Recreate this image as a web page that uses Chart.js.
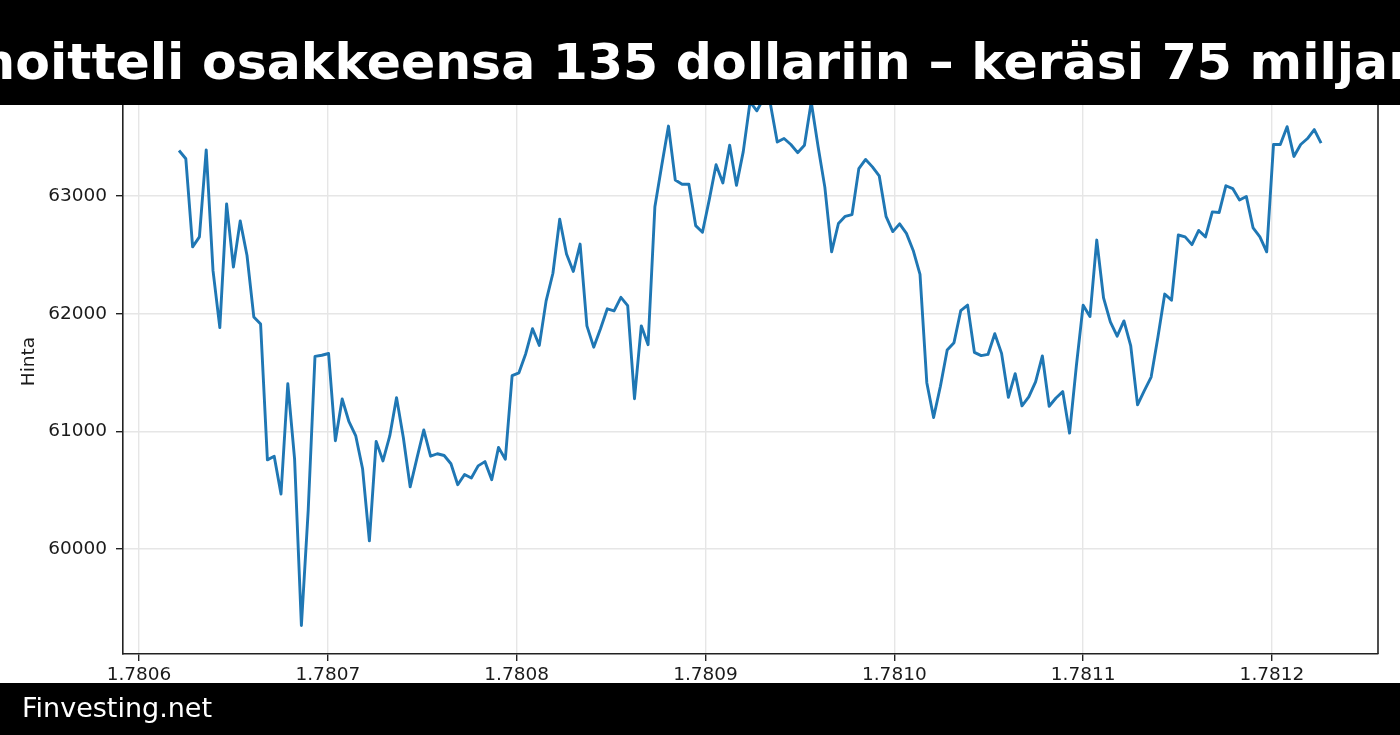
<!DOCTYPE html>
<html>
<head>
<meta charset="utf-8">
<script src="https://cdn.jsdelivr.net/npm/chart.js@4.4.0/dist/chart.umd.min.js"></script>
<style>
  html, body { margin: 0; padding: 0; background: #fff; overflow: hidden; }
  #wrap { width: 1400px; height: 735px; }
</style>
</head>
<body>
<div id="wrap"><canvas id="priceChart" width="1400" height="735"></canvas></div>
<script>
// hourly closes, x = timestamp / 1e9
const xStart = 1.7806212;
const hourStep = 0.0000036;
const prices = [
  63387, 63317, 62568, 62653, 63393, 62366, 61882, 62934, 62396, 62789,
  62495, 61973, 61912, 60758, 60789, 60468, 61405, 60764, 59350, 60326,
  61637, 61647, 61662, 60921, 61275, 61082, 60961, 60683, 60070, 60915,
  60749, 60961, 61287, 60946, 60529, 60773, 61012, 60789, 60810, 60795,
  60725, 60547, 60634, 60604, 60707, 60743, 60589, 60864, 60764, 61474,
  61498, 61660, 61873, 61731, 62109, 62344, 62803, 62507, 62359, 62592,
  61897, 61716, 61873, 62042, 62024, 62139, 62069, 61278, 61897, 61737,
  62909, 63257, 63595, 63136, 63100, 63100, 62749, 62692, 62970, 63266,
  63112, 63432, 63091, 63378, 63800, 63725, 63830, 63780, 63459, 63489,
  63438, 63369, 63432, 63800, 63423, 63076, 62526, 62767, 62828, 62843,
  63233, 63311, 63248, 63172, 62828, 62698, 62764, 62683, 62538, 62335,
  61414, 61118, 61384, 61692, 61754, 62027, 62073, 61672, 61644, 61654,
  61830, 61663, 61290, 61491, 61217, 61293, 61421, 61641, 61214, 61284,
  61338, 60985, 61556, 62073, 61976, 62626, 62134, 61930, 61809, 61939,
  61726, 61225, 61347, 61462, 61802, 62167, 62115, 62669, 62653, 62587,
  62708, 62653, 62866, 62860, 63088, 63064, 62967, 62997, 62729, 62653,
  62526, 63438, 63438, 63590, 63337, 63438, 63489, 63565, 63450
];
const xTicks = [1.7806, 1.7807, 1.7808, 1.7809, 1.7810, 1.7811, 1.7812];
const yTicks = [60000, 61000, 62000, 63000];
const titleText = "Yhtiö hinnoitteli osakkeensa 135 dollariin – keräsi 75 miljardia dollaria";
const footerText = "Finvesting.net";
const yLabel = "Hinta";

const points = prices.map((p, i) => ({x: xStart + i * hourStep, y: p}));

const bands = {
  id: 'bands',
  afterDraw(chart) {
    const ctx = chart.ctx;
    const a = chart.chartArea;
    ctx.save();
    // right spine
    ctx.strokeStyle = '#222';
    ctx.lineWidth = 1.6;
    ctx.beginPath();
    ctx.moveTo(a.right, a.top);
    ctx.lineTo(a.right, a.bottom);
    ctx.stroke();
    // top banner
    ctx.fillStyle = '#000';
    ctx.fillRect(0, 0, 1400, 105);
    ctx.font = 'bold 50.5px "DejaVu Sans"';
    ctx.fillStyle = '#fff';
    ctx.textBaseline = 'alphabetic';
    ctx.textAlign = 'left';
    const lead = titleText.slice(0, titleText.indexOf('osakkeensa'));
    ctx.fillText(titleText, 202 - ctx.measureText(lead).width, 79);
    // bottom banner
    ctx.fillStyle = '#000';
    ctx.fillRect(0, 683, 1400, 52);
    ctx.font = '27px "DejaVu Sans"';
    ctx.fillStyle = '#fff';
    ctx.fillText(footerText, 22, 717);
    ctx.restore();
  }
};

new Chart(document.getElementById('priceChart'), {
  type: 'line',
  data: {
    datasets: [{
      data: points,
      borderColor: '#1f77b4',
      borderWidth: 2.9,
      pointRadius: 0,
      tension: 0,
      fill: false,
      borderJoinStyle: 'round'
    }]
  },
  options: {
    responsive: false,
    animation: false,
    devicePixelRatio: 1,
    layout: {padding: {top: 69, right: 22, left: 0, bottom: 0}},
    plugins: {legend: {display: false}, tooltip: {enabled: false}},
    scales: {
      x: {
        type: 'linear',
        min: 1.78059153,
        max: 1.78125614,
        afterFit: s => { s.height = 81; },
        afterBuildTicks: s => { s.ticks = xTicks.map(v => ({value: v})); },
        ticks: {
          callback: v => v.toFixed(4),
          font: {family: 'DejaVu Sans', size: 18.5},
          color: '#1a1a1a',
          padding: 3,
          maxRotation: 0,
          autoSkip: false
        },
        grid: {color: '#e6e6e6', lineWidth: 1.4, tickColor: '#222', tickLength: 7, tickWidth: 1.4},
        border: {color: '#222', width: 1.6}
      },
      y: {
        min: 59108,
        max: 64080,
        afterFit: s => { s.width = 123; },
        afterBuildTicks: s => { s.ticks = yTicks.map(v => ({value: v})); },
        ticks: {
          callback: v => String(v),
          font: {family: 'DejaVu Sans', size: 18.5},
          color: '#1a1a1a',
          padding: 9
        },
        title: {
          display: true,
          text: yLabel,
          font: {family: 'DejaVu Sans', size: 18.5},
          color: '#1a1a1a',
          padding: {top: 18, bottom: 0}
        },
        grid: {color: '#e6e6e6', lineWidth: 1.4, tickColor: '#222', tickLength: 7, tickWidth: 1.4},
        border: {color: '#222', width: 1.6}
      }
    }
  },
  plugins: [bands]
});
</script>
</body>
</html>
